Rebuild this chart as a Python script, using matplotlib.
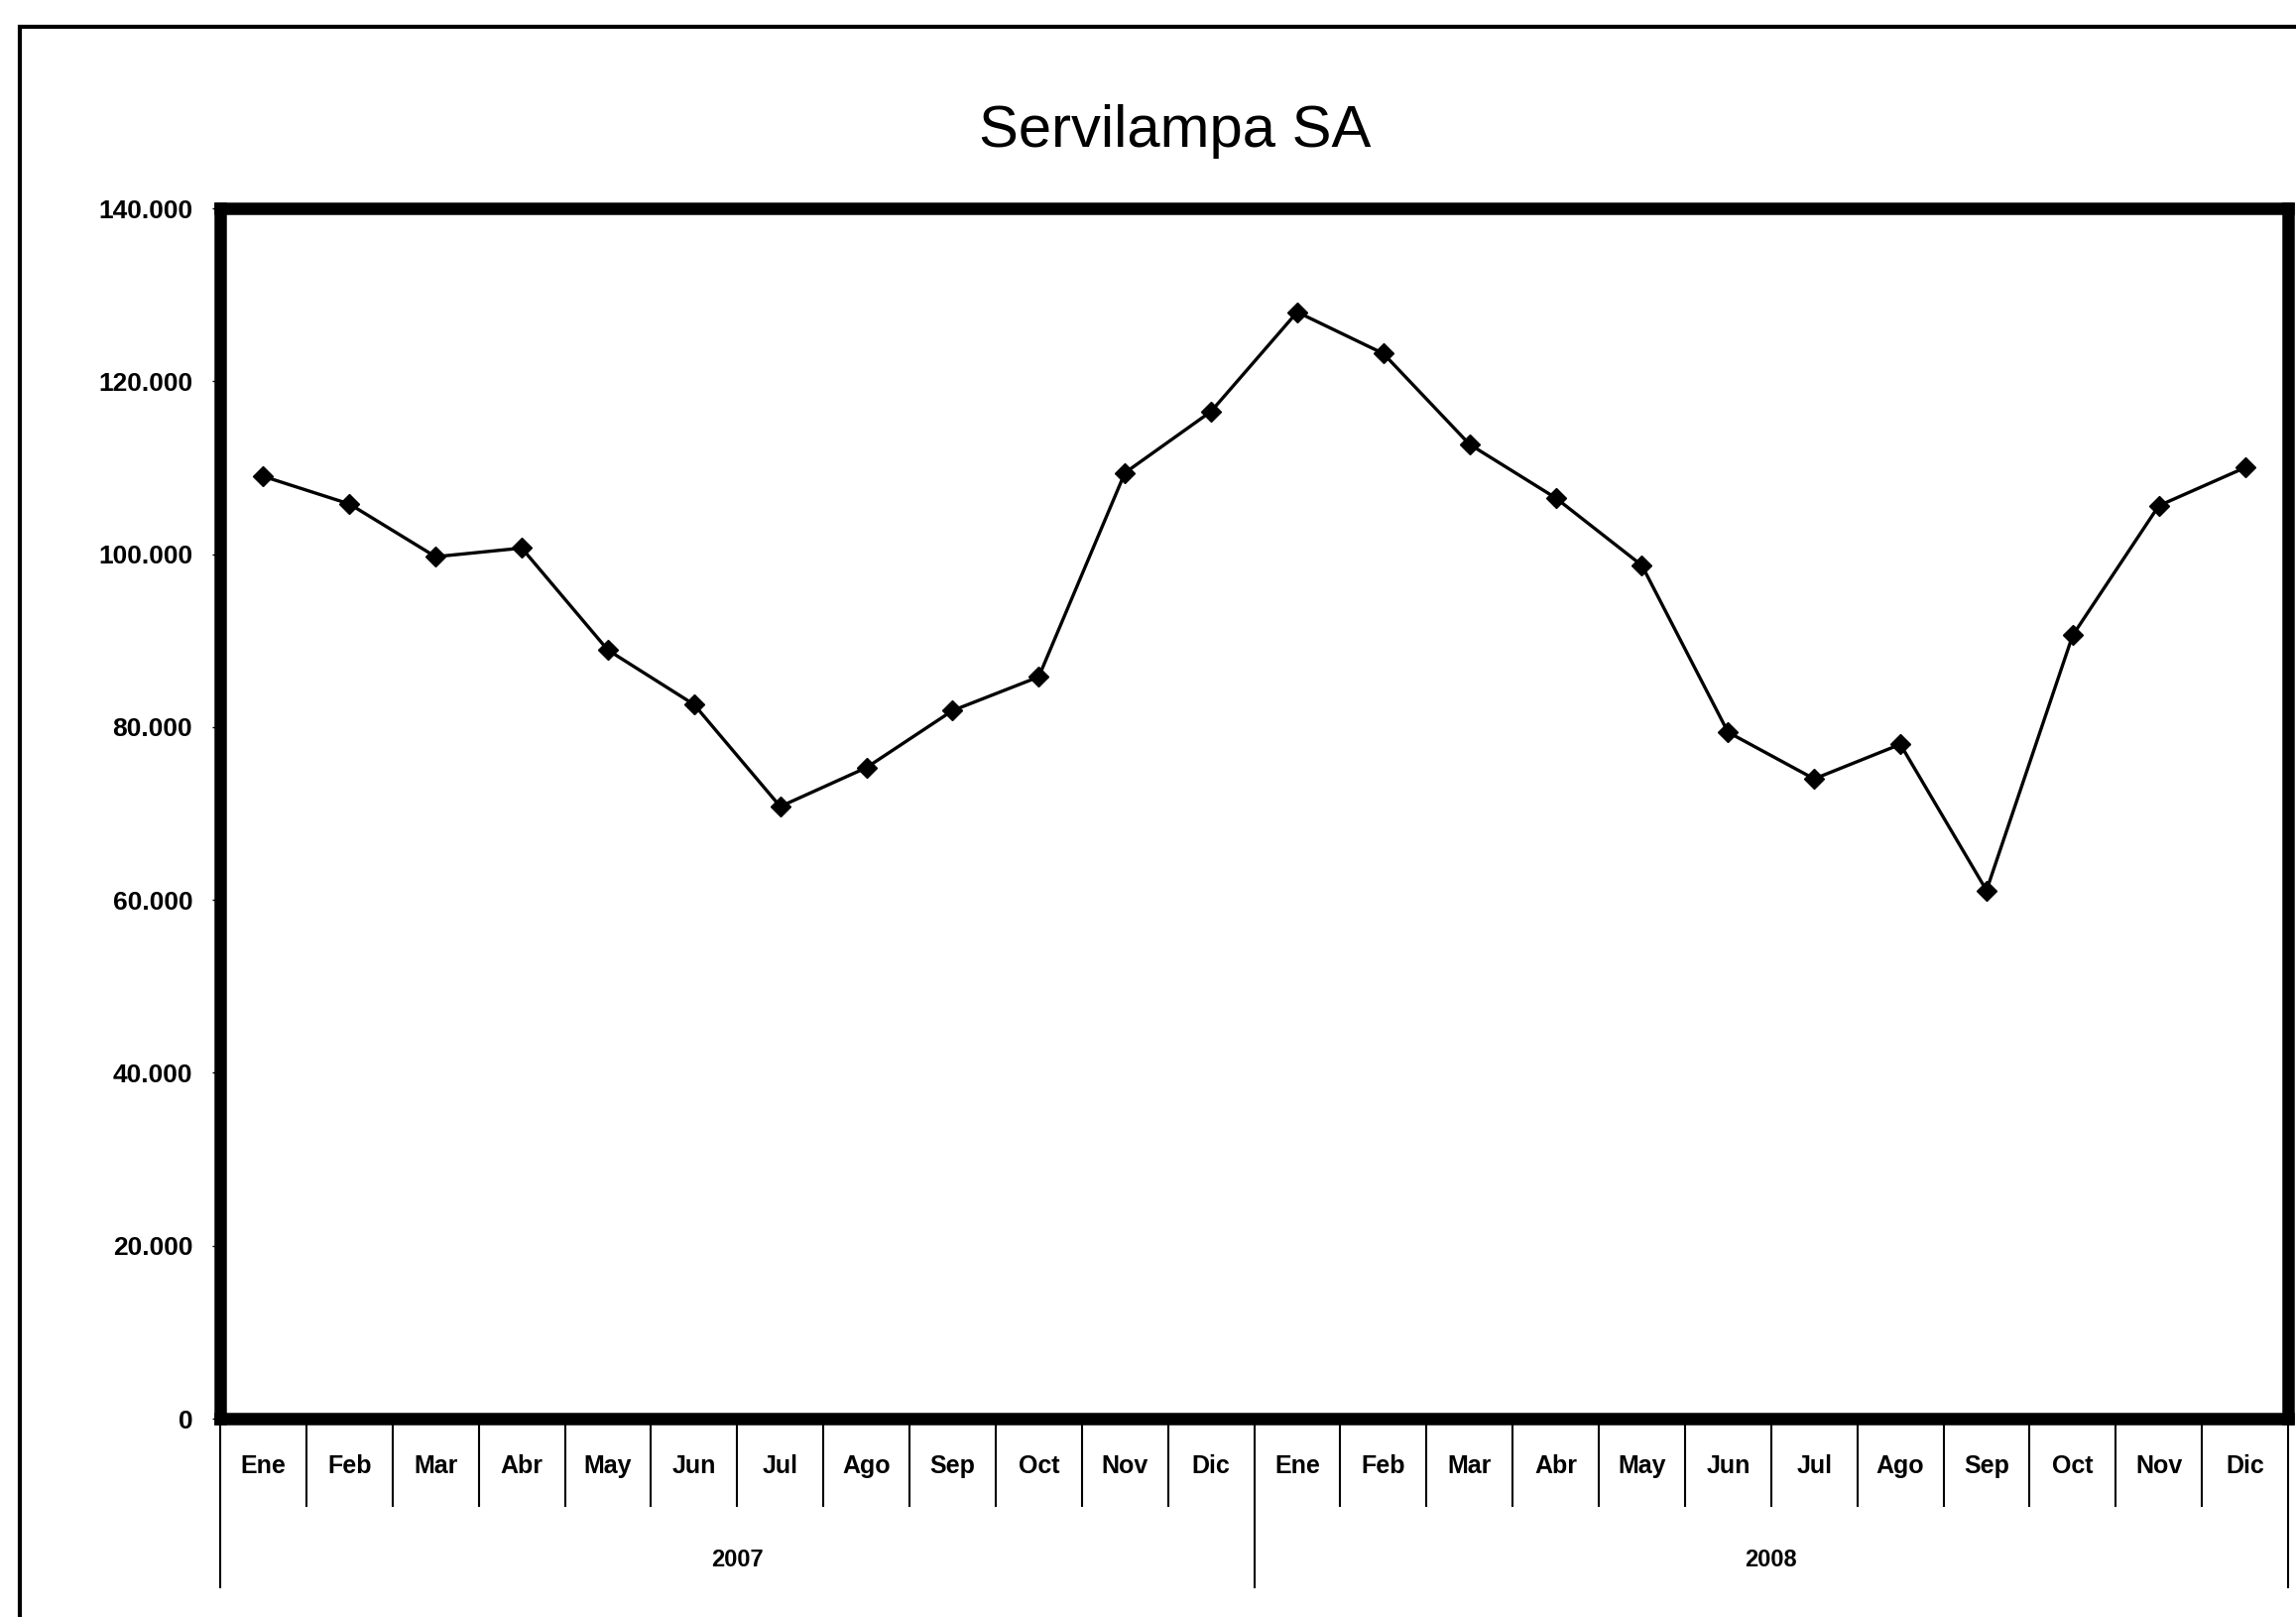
import matplotlib.pyplot as plt
import matplotlib.transforms as mtransforms
from matplotlib.patches import Rectangle
from matplotlib.ticker import FuncFormatter

plt.rcParams['font.family'] = ['Liberation Sans', 'DejaVu Sans']

months = ['Ene', 'Feb', 'Mar', 'Abr', 'May', 'Jun', 'Jul', 'Ago', 'Sep', 'Oct', 'Nov', 'Dic']
years = ['2007', '2008']
ventas_2007 = [109000, 105800, 99700, 100700, 88900, 82600, 70800, 75300, 81900, 85800, 109400, 116500]
ventas_2008 = [128000, 123200, 112700, 106500, 98700, 79400, 74000, 78000, 61100, 90600, 105600, 110000]

valores = ventas_2007 + ventas_2008
etiquetas = months * len(years)
x = [i + 0.5 for i in range(len(valores))]

fig = plt.figure(figsize=(23.15, 16.30), dpi=100)
# marco exterior del grafico
fig.patches.append(Rectangle((20 / 2315, -0.05), 1.1, 1 - 27 / 1630 + 0.05,
                             transform=fig.transFigure, fill=False,
                             edgecolor='black', linewidth=3))

ax = fig.add_axes([222 / 2315, 1 - 1430 / 1630, (2307 - 222) / 2315, (1430 - 210) / 1630])
ax.plot(x, valores, color='black', linewidth=2.4, marker='D', markersize=10.5)

ax.set_xlim(0, len(valores))
ax.set_ylim(0, 140000)
ax.set_yticks(range(0, 140001, 20000))
ax.yaxis.set_major_formatter(FuncFormatter(lambda v, p: '0' if v == 0 else f'{int(v):,}'.replace(',', '.')))
for lbl in ax.get_yticklabels():
    lbl.set_fontweight('bold')
ax.tick_params(axis='y', labelsize=19, length=6, width=1, pad=14)

for s in ax.spines.values():
    s.set_linewidth(9)

# eje de categorias con meses y anios
ax.set_xticks(x)
ax.set_xticklabels(etiquetas, fontsize=18, fontweight='bold')
ax.tick_params(axis='x', length=0, pad=26)

trans = mtransforms.blended_transform_factory(ax.transData, ax.transAxes)
for i in range(len(valores) + 1):
    largo = -0.139 if i % 12 == 0 else -0.072
    ax.plot([i, i], [0, largo], transform=trans, color='black', linewidth=1.5, clip_on=False)
for j, y in enumerate(years):
    ax.text(6 + 12 * j, -0.117, y, transform=trans, ha='center', va='center',
            fontsize=17, fontweight='bold')

fig.text(1185 / 2315, 1 - 133 / 1630, 'Servilampa SA', ha='center', va='center', fontsize=43)

fig.savefig('out.png', dpi=100)
